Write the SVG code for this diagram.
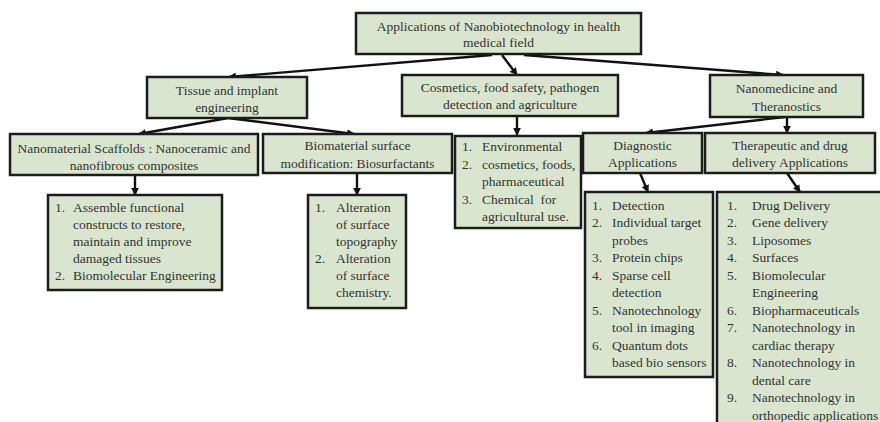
<svg xmlns="http://www.w3.org/2000/svg" width="880" height="422" viewBox="0 0 880 422">
  <style>
    .box { fill: #dae5d0; stroke: #1c1c1c; stroke-width: 2.5; }
    text { font-size: 13.5px; fill: #333; }
    .c { text-anchor: middle; }
    .edge { stroke: #111; stroke-width: 2.4; fill: none; marker-end: url(#arrow); }
  </style>
  <defs>
    <marker id="arrow" viewBox="0 0 10 10" refX="9" refY="5" markerWidth="3.2" markerHeight="3.2" orient="auto" markerUnits="strokeWidth">
      <path d="M0,0 L10,5 L0,10 Z" fill="#111"/>
    </marker>
  </defs>
  <rect width="880" height="422" fill="#fff"/>

  <!-- connectors -->
  <g id="connectors">
    <path class="edge" d="M492,55 L229,77"/>
    <path class="edge" d="M502,55 L517,75"/>
    <path class="edge" d="M524,55 L783,75"/>
    <path class="edge" d="M228,118 L139,134"/>
    <path class="edge" d="M228,118 L354,134"/>
    <path class="edge" d="M517,116 L517,135"/>
    <path class="edge" d="M785,117 L646,133"/>
    <path class="edge" d="M787,117 L787,133"/>
    <path class="edge" d="M135,175 L135,195"/>
    <path class="edge" d="M357,173 L357,195"/>
    <path class="edge" d="M640,173 L648,192"/>
    <path class="edge" d="M787,173 L800,192"/>
  </g>

  <g font-family="Liberation Serif, serif">
  <!-- root -->
  <g id="root">
    <rect class="box" x="356" y="13" width="285" height="41"/>
    <text class="c" x="498.5" y="31">Applications of Nanobiotechnology in health</text>
    <text class="c" x="498.5" y="47">medical field</text>
  </g>

  <!-- second level -->
  <g id="tissue">
    <rect class="box" x="147" y="77" width="160" height="41"/>
    <text class="c" x="227" y="94.5">Tissue and implant</text>
    <text class="c" x="227" y="112">engineering</text>
  </g>
  <g id="cosmetics">
    <rect class="box" x="402" y="75" width="216" height="41"/>
    <text class="c" x="510" y="92">Cosmetics, food safety, pathogen</text>
    <text class="c" x="510" y="108.5">detection and agriculture</text>
  </g>
  <g id="nanomedicine">
    <rect class="box" x="710" y="75" width="153" height="42"/>
    <text class="c" x="786.5" y="92.5">Nanomedicine and</text>
    <text class="c" x="786.5" y="110.5">Theranostics</text>
  </g>

  <!-- third level -->
  <g id="scaffolds">
    <rect class="box" x="10" y="134" width="248" height="41"/>
    <text class="c" x="134" y="152.5">Nanomaterial Scaffolds : Nanoceramic and</text>
    <text class="c" x="134" y="169.5">nanofibrous composites</text>
  </g>
  <g id="biomaterial">
    <rect class="box" x="263" y="134" width="189" height="39"/>
    <text class="c" x="357.5" y="149.5">Biomaterial surface</text>
    <text class="c" x="357.5" y="167.5">modification: Biosurfactants</text>
  </g>
  <g id="environmental">
    <rect class="box" x="455" y="136" width="126" height="92"/>
    <text x="462" y="151">1.</text><text x="482" y="151">Environmental</text>
    <text x="462" y="168.5">2.</text><text x="482" y="168.5">cosmetics, foods,</text>
    <text x="482" y="186">pharmaceutical</text>
    <text x="462" y="203.5">3.</text><text x="482" y="203.5" xml:space="preserve">Chemical  for</text>
    <text x="482" y="221">agricultural use.</text>
  </g>
  <g id="diagnostic">
    <rect class="box" x="583" y="133" width="119" height="40"/>
    <text class="c" x="642.5" y="149.5">Diagnostic</text>
    <text class="c" x="642.5" y="166.5">Applications</text>
  </g>
  <g id="therapeutic">
    <rect class="box" x="705" y="133" width="170" height="40"/>
    <text class="c" x="790" y="149.5">Therapeutic and drug</text>
    <text class="c" x="790" y="166.5">delivery Applications</text>
  </g>

  <!-- lists -->
  <g id="scaffolds-list">
    <rect class="box" x="48" y="195" width="174" height="95"/>
    <text x="55" y="212">1.</text><text x="73" y="212">Assemble functional</text>
    <text x="73" y="229">constructs to restore,</text>
    <text x="73" y="246">maintain and improve</text>
    <text x="73" y="263">damaged tissues</text>
    <text x="55" y="280">2.</text><text x="73" y="280">Biomolecular Engineering</text>
  </g>
  <g id="biomaterial-list">
    <rect class="box" x="308" y="195" width="98" height="113"/>
    <text x="315" y="212">1.</text><text x="336" y="212">Alteration</text>
    <text x="336" y="229">of surface</text>
    <text x="336" y="246">topography</text>
    <text x="315" y="263">2.</text><text x="336" y="263">Alteration</text>
    <text x="336" y="280">of surface</text>
    <text x="336" y="297">chemistry.</text>
  </g>
  <g id="diagnostic-list">
    <rect class="box" x="585" y="192" width="128" height="185"/>
    <text x="592" y="209.5">1.</text><text x="612" y="209.5">Detection</text>
    <text x="592" y="227">2.</text><text x="612" y="227">Individual target</text>
    <text x="612" y="244.5">probes</text>
    <text x="592" y="262">3.</text><text x="612" y="262">Protein chips</text>
    <text x="592" y="279.5">4.</text><text x="612" y="279.5">Sparse cell</text>
    <text x="612" y="297">detection</text>
    <text x="592" y="314.5">5.</text><text x="612" y="314.5">Nanotechnology</text>
    <text x="612" y="332">tool in imaging</text>
    <text x="592" y="349.5">6.</text><text x="612" y="349.5">Quantum dots</text>
    <text x="612" y="367">based bio sensors</text>
  </g>
  <g id="therapeutic-list">
    <rect class="box" x="717" y="192" width="170" height="240"/>
    <text x="727" y="209.5">1.</text><text x="752" y="209.5">Drug Delivery</text>
    <text x="727" y="227">2.</text><text x="752" y="227">Gene delivery</text>
    <text x="727" y="244.5">3.</text><text x="752" y="244.5">Liposomes</text>
    <text x="727" y="262">4.</text><text x="752" y="262">Surfaces</text>
    <text x="727" y="279.5">5.</text><text x="752" y="279.5">Biomolecular</text>
    <text x="752" y="297">Engineering</text>
    <text x="727" y="314.5">6.</text><text x="752" y="314.5">Biopharmaceuticals</text>
    <text x="727" y="332">7.</text><text x="752" y="332">Nanotechnology in</text>
    <text x="752" y="349.5">cardiac therapy</text>
    <text x="727" y="367">8.</text><text x="752" y="367">Nanotechnology in</text>
    <text x="752" y="384.5">dental care</text>
    <text x="727" y="402">9.</text><text x="752" y="402">Nanotechnology in</text>
    <text x="752" y="419.5">orthopedic applications</text>
  </g>
  </g>
</svg>
